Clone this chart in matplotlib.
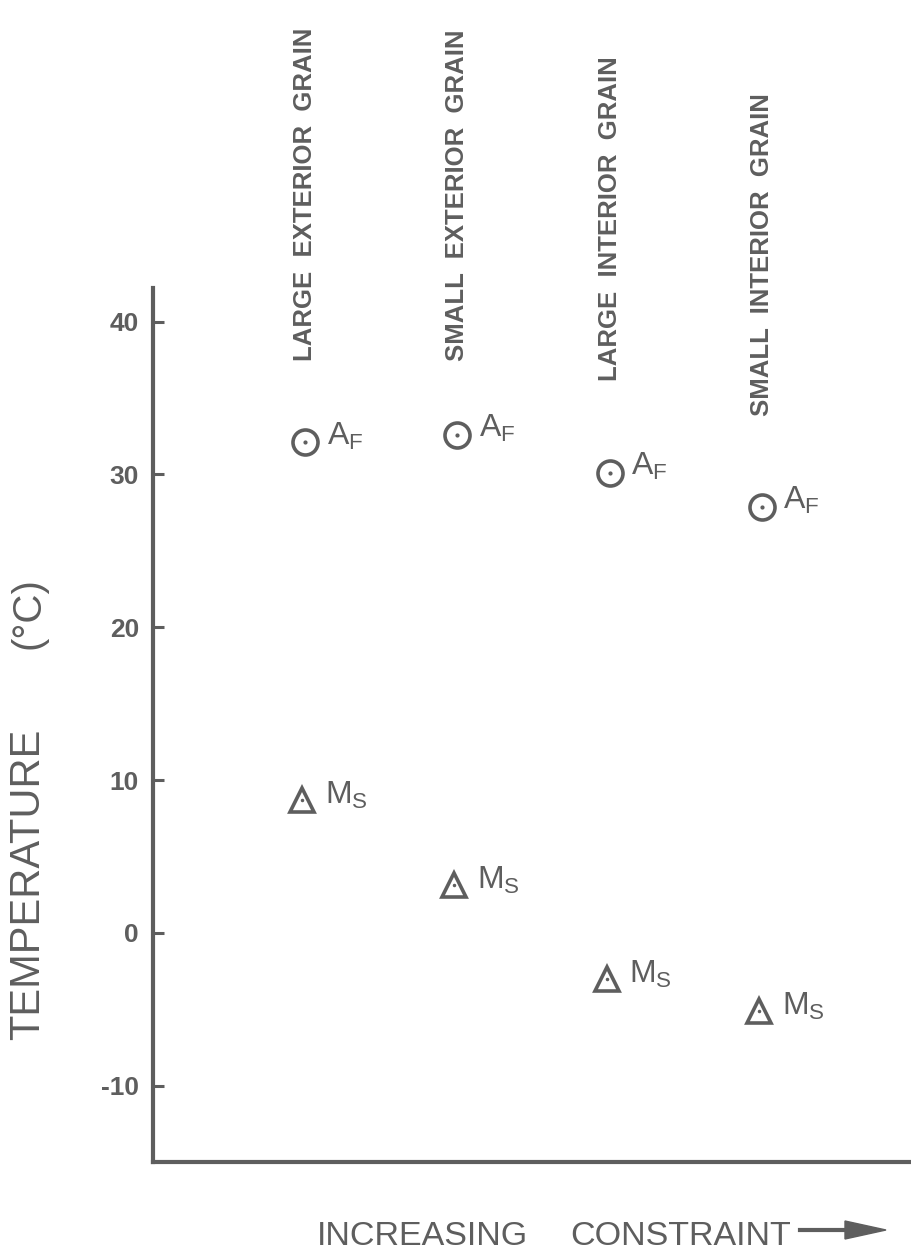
import numpy as np
import matplotlib.pyplot as plt

# grain categories, ordered by increasing constraint
categories = ["LARGE  EXTERIOR  GRAIN", "SMALL  EXTERIOR  GRAIN",
              "LARGE  INTERIOR  GRAIN", "SMALL  INTERIOR  GRAIN"]
af_temps = [32.1, 32.6, 30.1, 27.9]   # austenite finish, deg C
ms_temps = [8.7, 3.1, -3.0, -5.1]     # martensite start, deg C
yticks = [-10, 0, 10, 20, 30, 40]

ink = "#5e5e5e"
plt.rcParams['font.family'] = ['Liberation Sans', 'DejaVu Sans']

fig = plt.figure(figsize=(9.11, 12.51), dpi=100)
ax = fig.add_axes([153 / 911, 89 / 1251, 758 / 911, 874 / 1251])

pos = np.arange(1, len(categories) + 1)

ax.plot(pos, af_temps, 'o', ms=18, mfc='white', mec=ink, mew=2.6, ls='none')
ax.plot(pos, af_temps, '.', ms=4, color=ink, ls='none')
ax.plot(pos - 0.02, ms_temps, '^', ms=17, mfc='white', mec=ink, mew=2.6, ls='none')
ax.plot(pos - 0.02, ms_temps, '.', ms=3, color=ink, ls='none')

for x, t in zip(pos, af_temps):
    ax.text(x + 0.14, t + 0.4, r'$\mathregular{A_F}$', fontsize=23,
            color=ink, ha='left', va='center')
for x, t in zip(pos, ms_temps):
    ax.text(x + 0.13, t + 0.3, r'$\mathregular{M_S}$', fontsize=23,
            color=ink, ha='left', va='center')

label_base = [37.4, 37.4, 36.1, 33.8]
for x, lab, b in zip(pos, categories, label_base):
    ax.text(x, b, lab, rotation=90, fontsize=18.5, fontweight='bold',
            color=ink, ha='center', va='bottom')

ax.set_xlim(0, 4.98)
ax.set_ylim(-15, 42.2)
ax.set_yticks(yticks)
ax.set_yticklabels([str(v) for v in yticks], fontsize=19, fontweight='bold', color=ink)
ax.set_xticks([])
ax.tick_params(axis='y', direction='in', length=8, width=2.2, color=ink, pad=10)
for side in ['top', 'right']:
    ax.spines[side].set_visible(False)
for side in ['left', 'bottom']:
    ax.spines[side].set_linewidth(3)
    ax.spines[side].set_color(ink)

fig.text(28 / 911, 1 - 884 / 1251, "TEMPERATURE", rotation=90, fontsize=30,
         color=ink, ha='center', va='center')
fig.text(28 / 911, 1 - 613 / 1251, "(°C)", rotation=90, fontsize=29,
         color=ink, ha='center', va='center')

fig.text(317 / 911, 1 - 1245 / 1251, "INCREASING", fontsize=24.5,
         color=ink, ha='left', va='baseline')
fig.text(570 / 911, 1 - 1245 / 1251, "CONSTRAINT", fontsize=24.5,
         color=ink, ha='left', va='baseline')
fig.add_artist(plt.Line2D([800 / 911, 850 / 911], [1 - 1230 / 1251] * 2,
                          transform=fig.transFigure, color=ink, lw=3))
fig.patches.append(plt.Polygon([[845 / 911, 1 - 1221 / 1251],
                                [886 / 911, 1 - 1230 / 1251],
                                [845 / 911, 1 - 1239 / 1251]],
                               closed=True, transform=fig.transFigure,
                               color=ink, figure=fig))

fig.savefig("out.png", dpi=100)
